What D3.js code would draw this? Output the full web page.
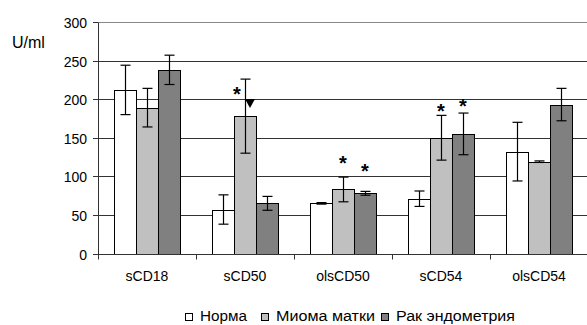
<!DOCTYPE html>
<html>
<head>
<meta charset="utf-8">
<script src="https://cdn.jsdelivr.net/npm/d3@7"></script>
<style>
  body { margin: 0; background: #fff; }
  text { font-family: "Liberation Sans", Arial, sans-serif; fill: #000; }
</style>
</head>
<body>
<div id="chart"></div>
<script>
const categories = ["sCD18", "sCD50", "olsCD50", "sCD54", "olsCD54"];
const series = ["Норма", "Миома матки", "Рак эндометрия"];
const colors = ["#ffffff", "#c0c0c0", "#808080"];

// mean values per series (same order as categories)
const norma   = [212, 57, 65, 71, 132];
const mioma   = [189, 178, 83, 150, 119];
const rak     = [238, 65, 78, 155, 193];
// error (+/-) per series
const normaErr = [32, 19, 1, 10, 38];
const miomaErr = [25, 48, 16, 29, 1];
const rakErr   = [19, 9, 2.5, 27, 21];

const yTicks = [0, 50, 100, 150, 200, 250, 300];

// significance markers: category, series index, symbol, value position, x shift
const markers = [
  {cat: "sCD50", s: 1, sym: "*", v: 211, dx: -8},
  {cat: "sCD50", s: 1, sym: "tri", v: 195, dx: 5},
  {cat: "olsCD50", s: 1, sym: "*", v: 121, dx: 0},
  {cat: "olsCD50", s: 2, sym: "*", v: 111, dx: 0},
  {cat: "sCD54", s: 1, sym: "*", v: 188, dx: 0},
  {cat: "sCD54", s: 2, sym: "*", v: 195, dx: 0}
];

const values = [norma, mioma, rak];
const errs = [normaErr, miomaErr, rakErr];

const width = 587, height = 325;
const svg = d3.select("#chart").append("svg")
    .attr("width", width)
    .attr("height", height);

const x = d3.scaleBand().domain(categories).range([98, 588]);
const groupW = 66;
const x1 = d3.scaleBand().domain(d3.range(series.length)).range([0, groupW]);
const off = (x.bandwidth() - groupW) / 2;
const y = d3.scaleLinear().domain([0, 300]).range([253.5, 22]);
const py = v => Math.round(y(v)) + 0.5;

// gridlines
svg.append("g").selectAll("line")
  .data(yTicks.slice(1))
  .join("line")
    .attr("x1", 98).attr("x2", 588)
    .attr("y1", d => py(d)).attr("y2", d => py(d))
    .attr("stroke", d => d === 300 ? "#888" : "#333")
    .attr("stroke-width", 1);

// y axis
svg.append("line")
  .attr("x1", 98.5).attr("x2", 98.5)
  .attr("y1", py(300)).attr("y2", py(0))
  .attr("stroke", "#333");
const gy = svg.append("g");
gy.selectAll("line")
  .data(yTicks)
  .join("line")
    .attr("x1", 93).attr("x2", 98)
    .attr("y1", d => py(d)).attr("y2", d => py(d))
    .attr("stroke", "#333");
gy.selectAll("text")
  .data(yTicks)
  .join("text")
    .attr("x", 87).attr("y", d => py(d) + 5)
    .attr("text-anchor", "end")
    .attr("font-size", 14)
    .text(d => d);

svg.append("text")
  .attr("x", 12).attr("y", 48)
  .attr("font-size", 16)
  .text("U/ml");

// bars
const bars = [];
categories.forEach((c, i) => {
  series.forEach((s, j) => {
    bars.push({cat: c, s: j, v: values[j][i], e: errs[j][i]});
  });
});

svg.append("g").selectAll("rect")
  .data(bars)
  .join("rect")
    .attr("x", d => Math.round(x(d.cat) + off + x1(d.s)) + 0.5)
    .attr("y", d => py(d.v))
    .attr("width", x1.bandwidth())
    .attr("height", d => py(0) - py(d.v))
    .attr("fill", d => colors[d.s])
    .attr("stroke", "#000")
    .attr("stroke-width", 1);

// error bars
const eb = svg.append("g").attr("stroke", "#000").attr("stroke-width", 1.2);
bars.forEach(d => {
  const cx = Math.round(x(d.cat) + off + x1(d.s) + x1.bandwidth() / 2) + 0.5;
  eb.append("line").attr("x1", cx).attr("x2", cx).attr("y1", y(d.v + d.e)).attr("y2", y(d.v - d.e));
  [d.v + d.e, d.v - d.e].forEach(v => {
    eb.append("line").attr("x1", cx - 5).attr("x2", cx + 5).attr("y1", y(v)).attr("y2", y(v));
  });
});

// x axis
svg.append("line")
  .attr("x1", 98).attr("x2", 588)
  .attr("y1", py(0)).attr("y2", py(0))
  .attr("stroke", "#333");
svg.append("g").selectAll("line")
  .data(categories.concat([null]))
  .join("line")
    .attr("x1", (d, i) => Math.round(98 + i * x.bandwidth()) + 0.5)
    .attr("x2", (d, i) => Math.round(98 + i * x.bandwidth()) + 0.5)
    .attr("y1", py(0)).attr("y2", py(0) + 5)
    .attr("stroke", "#333");

svg.append("g").selectAll("text")
  .data(categories)
  .join("text")
    .attr("x", d => x(d) + x.bandwidth() / 2)
    .attr("y", 281)
    .attr("text-anchor", "middle")
    .attr("font-size", 14)
    .text(d => d);

// markers
markers.forEach(m => {
  const cx = x(m.cat) + off + x1(m.s) + x1.bandwidth() / 2 + m.dx;
  const cy = y(m.v);
  if (m.sym === "tri") {
    svg.append("path")
      .attr("d", `M${cx - 5},${cy - 4}L${cx + 5},${cy - 4}L${cx},${cy + 5}Z`)
      .attr("fill", "#000");
  } else {
    svg.append("text")
      .attr("x", cx).attr("y", cy + 10)
      .attr("text-anchor", "middle")
      .attr("font-size", 20)
      .attr("font-weight", "bold")
      .text("*");
  }
});

// legend
const legendX = [185, 261, 381];
const legendW = [47, 99, 119];
const lg = svg.append("g");
series.forEach((s, j) => {
  lg.append("rect")
    .attr("x", legendX[j] + 0.5).attr("y", 313.5)
    .attr("width", 7).attr("height", 7)
    .attr("fill", colors[j]).attr("stroke", "#000");
  lg.append("text")
    .attr("x", legendX[j] + 15).attr("y", 321)
    .attr("font-size", 14)
    .attr("textLength", legendW[j])
    .attr("lengthAdjust", "spacingAndGlyphs")
    .text(s);
});
</script>
</body>
</html>
